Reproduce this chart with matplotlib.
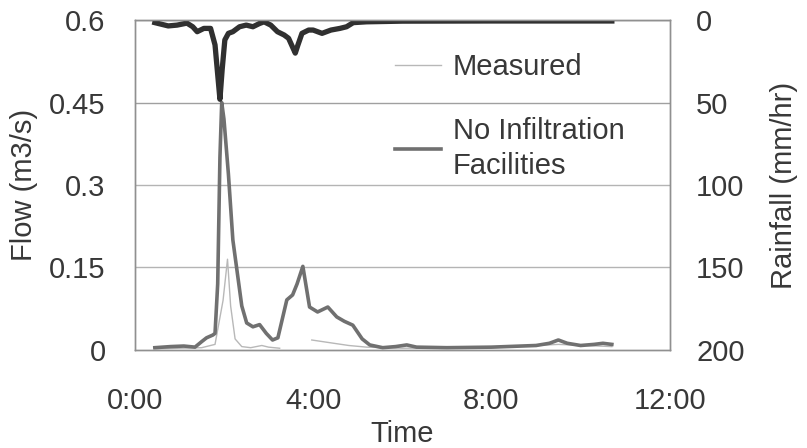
import numpy as np
import matplotlib.pyplot as plt

plt.rcParams['font.family'] = ['Liberation Sans', 'DejaVu Sans']

# rainfall hyetograph (hours, mm/hr)
rain_t = [0.45, 0.6, 0.75, 0.95, 1.17, 1.3, 1.4, 1.55, 1.7, 1.8, 1.86, 1.91, 1.96, 2.02,
          2.1, 2.2, 2.35, 2.5, 2.65, 2.8, 2.9, 3.05, 3.2, 3.35, 3.45, 3.55, 3.6, 3.66,
          3.75, 3.9, 4.0, 4.2, 4.4, 4.6, 4.75, 4.9, 5.2, 6.0, 8.0, 10.7]
rain = [1.5, 2.5, 3.5, 3, 1.8, 4, 7, 5, 5, 15, 33, 48, 30, 12,
        8, 7, 4, 3, 4, 2, 1, 3, 7, 9, 11, 17, 20, 15,
        8, 6, 6, 8, 6, 5, 4, 1.5, 1, 0.6, 0.5, 0.5]

# simulated flow without infiltration facilities (m3/s)
noinf_t = [0.45, 0.8, 1.1, 1.35, 1.5, 1.61, 1.75, 1.8, 1.86, 1.91, 1.95, 2.0, 2.1, 2.2,
           2.3, 2.4, 2.51, 2.65, 2.8, 2.95, 3.09, 3.21, 3.41, 3.54, 3.64, 3.77, 3.92, 4.1,
           4.33, 4.53, 4.7, 4.89, 5.1, 5.27, 5.56, 5.85, 6.1, 6.32, 7.0, 8.0, 9.0, 9.3,
           9.5, 9.7, 10.0, 10.3, 10.5, 10.7]
noinf = [0.004, 0.006, 0.007, 0.005, 0.015, 0.022, 0.027, 0.03, 0.12, 0.35, 0.45, 0.42, 0.32, 0.2,
         0.14, 0.08, 0.049, 0.042, 0.046, 0.03, 0.018, 0.022, 0.091, 0.1, 0.12, 0.152, 0.078, 0.069,
         0.078, 0.06, 0.052, 0.045, 0.02, 0.009, 0.004, 0.006, 0.009, 0.005, 0.004, 0.005, 0.008, 0.012,
         0.018, 0.012, 0.008, 0.01, 0.012, 0.01]

# measured flow (gap where no record)
meas_t = [0.45, 1.0, 1.5, 1.8, 1.98, 2.08, 2.15, 2.25, 2.4, 2.6, 2.85, 3.0, 3.25, np.nan,
          3.97, 4.3, 4.8, 5.2, 6.0, 8.0, 9.5, 10.7]
meas = [0.002, 0.003, 0.004, 0.01, 0.09, 0.165, 0.08, 0.02, 0.006, 0.004, 0.008, 0.005, 0.003, np.nan,
        0.018, 0.014, 0.008, 0.005, 0.003, 0.004, 0.01, 0.006]

x_ticks = [0, 4, 8, 12]
x_labels = ["0:00", "4:00", "8:00", "12:00"]
flow_ticks = [0, 0.15, 0.3, 0.45, 0.6]
flow_labels = ["0", "0.15", "0.3", "0.45", "0.6"]
rain_ticks = [0, 50, 100, 150, 200]

txt = "#383838"
fs = 21

fig = plt.figure(figsize=(8.07, 4.48), dpi=100)
ax = fig.add_axes([0.167, 0.219, 0.663, 0.736])

ax.plot(meas_t, meas, color="#b8b8b8", lw=1.0, label="Measured")
ax.plot(noinf_t, noinf, color="#707070", lw=2.6, label="No Infiltration\nFacilities")

ax.set_xlim(0, 12)
ax.set_ylim(0, 0.6)
ax.set_xticks(x_ticks)
ax.set_xticklabels(x_labels)
ax.set_yticks(flow_ticks)
ax.set_yticklabels(flow_labels)
for v, c in zip(flow_ticks[1:], ["#b4b4b4", "#b4b4b4", "#a0a0a0", "#a0a0a0"]):
    ax.axhline(v, color=c, lw=1.0, zorder=0)
ax.tick_params(length=0, labelsize=fs, labelcolor=txt)
ax.tick_params(axis="y", pad=21)
ax.tick_params(axis="x", pad=27)
ax.set_xlabel("Time", fontsize=fs, color=txt, labelpad=3)
ax.set_ylabel("Flow (m3/s)", fontsize=fs, color=txt, labelpad=8)

ax2 = ax.twinx()
ax2.plot(rain_t, rain, color="#303030", lw=3.8)
ax2.set_ylim(200, 0)
ax2.set_yticks(rain_ticks)
ax2.tick_params(length=0, labelsize=fs, labelcolor=txt, pad=19)
ax2.set_ylabel("Rainfall (mm/hr)", fontsize=fs, color=txt, labelpad=18)

for a in (ax, ax2):
    for s in a.spines.values():
        s.set_color("#909090")
        s.set_linewidth(1.0)

h, l = ax.get_legend_handles_labels()
leg = ax2.legend(h, l, loc="upper left", bbox_to_anchor=(0.459, 0.945), frameon=False,
                 fontsize=fs, labelcolor=txt, handlelength=1.58, handletextpad=0.41,
                 labelspacing=1.25, borderpad=0)
for t in leg.get_texts():
    t.set_linespacing(1.3)

fig.savefig("out.png", dpi=100)
